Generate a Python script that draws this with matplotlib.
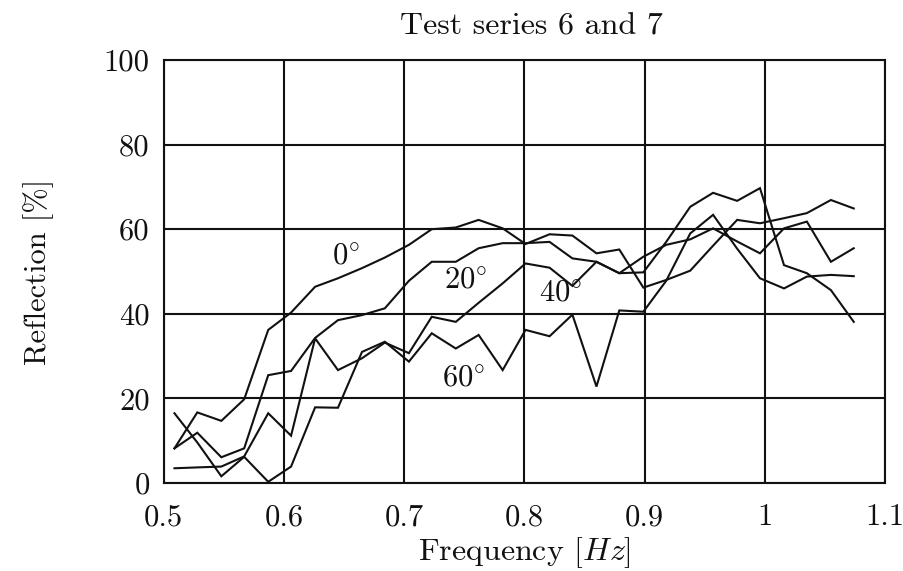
"""
Reflection vs. frequency for test series 6 and 7 (wave angles 0, 20, 40, 60 deg).
Black-and-white report style, Computer Modern fonts.
"""

import matplotlib
matplotlib.use("Agg")
import matplotlib.pyplot as plt
import matplotlib as mpl

# -----------------------------------------------------------------------------
# Data (frequency in Hz, reflection in %)
# -----------------------------------------------------------------------------
freqs = [0.509, 0.528, 0.548, 0.567, 0.587, 0.606, 0.626, 0.645, 0.665, 0.684,
         0.704, 0.723, 0.743, 0.762, 0.782, 0.801, 0.821, 0.840, 0.860, 0.879,
         0.899, 0.918, 0.938, 0.957, 0.977, 0.996, 1.016, 1.035, 1.055, 1.074]

refl_0 = [8.2, 16.7, 14.7, 19.8, 36.2, 40.3, 46.4, 48.4, 50.8, 53.3,
          56.3, 60.0, 60.4, 62.2, 60.2, 56.5, 58.8, 58.5, 54.3, 55.2,
          46.2, 48.0, 50.2, 56.1, 62.2, 61.4, 62.6, 63.8, 66.9, 64.9]
refl_20 = [8.2, 11.9, 6.1, 8.2, 25.5, 26.5, 34.3, 38.5, 39.7, 41.3,
           47.8, 52.3, 52.3, 55.5, 56.7, 56.7, 57.0, 53.1, 52.3, 49.6,
           53.5, 56.3, 57.6, 60.2, 57.1, 54.3, 60.2, 61.8, 52.3, 55.5]
refl_40 = [3.5, 3.7, 3.9, 6.3, 16.5, 11.2, 34.2, 26.7, 29.5, 33.2,
           30.7, 39.3, 38.1, 42.6, 47.2, 51.9, 50.9, 46.6, 52.3, 49.6,
           49.8, 57.0, 65.3, 68.6, 66.7, 69.7, 51.5, 49.6, 45.6, 38.1]
refl_60 = [16.5, 9.6, 1.6, 6.2, 0.3, 3.9, 17.9, 17.8, 31.0, 33.4,
           28.7, 35.4, 31.8, 35.0, 26.7, 36.2, 34.7, 39.8, 22.8, 40.8,
           40.5, 47.8, 59.0, 63.4, 55.4, 48.4, 46.0, 48.8, 49.2, 48.9]

# curve labels and where they sit on the plot
angle_labels = [r"$0^{\circ}$", r"$20^{\circ}$", r"$40^{\circ}$", r"$60^{\circ}$"]
label_pos = [(0.652, 53.5), (0.751, 47.8), (0.830, 44.8), (0.750, 24.6)]

x_ticks = [0.5, 0.6, 0.7, 0.8, 0.9, 1.0, 1.1]
x_ticklabels = ["0.5", "0.6", "0.7", "0.8", "0.9", "1", "1.1"]
y_ticks = [0, 20, 40, 60, 80, 100]
y_ticklabels = ["0", "20", "40", "60", "80", "100"]

# Style: LaTeX-like look
mpl.rcParams["font.family"] = "serif"
mpl.rcParams["font.serif"] = ["cmr10", "DejaVu Serif"]
mpl.rcParams["mathtext.fontset"] = "cm"
mpl.rcParams["axes.unicode_minus"] = False
mpl.rcParams["font.size"] = 22

INK = "#111111"
LW = 1.5


def plot_reflection(path):
    fig = plt.figure(figsize=(9.04, 5.71), dpi=100)
    ax = fig.add_axes([0.181, 0.154, 0.798, 0.741])

    for series in (refl_0, refl_20, refl_40, refl_60):
        ax.plot(freqs, series, color=INK, linewidth=LW, solid_joinstyle="miter")

    for text, (x, y) in zip(angle_labels, label_pos):
        ax.text(x, y, text, ha="center", va="center", fontsize=22, color=INK)

    ax.set_xlim(0.5, 1.1)
    ax.set_ylim(0, 100)
    ax.set_xticks(x_ticks)
    ax.set_xticklabels(x_ticklabels)
    ax.set_yticks(y_ticks)
    ax.set_yticklabels(y_ticklabels)
    ax.tick_params(length=0, labelsize=22, colors=INK)
    ax.tick_params(axis="x", pad=15)
    ax.tick_params(axis="y", pad=10)
    ax.grid(True, color=INK, linewidth=LW)
    ax.set_axisbelow(True)
    for spine in ax.spines.values():
        spine.set_color(INK)
        spine.set_linewidth(LW)

    ax.set_title("Test series 6 and 7", fontsize=23, x=0.51, pad=18, color=INK)
    ax.set_xlabel(r"Frequency [$Hz$]", fontsize=23, labelpad=3, color=INK)
    ax.set_ylabel("Reflection [%]", fontsize=22, labelpad=36, color=INK)

    fig.savefig(path, dpi=100, facecolor="white")
    plt.close(fig)


def main():
    plot_reflection("out.png")
    print("Saved: out.png")


if __name__ == "__main__":
    main()
